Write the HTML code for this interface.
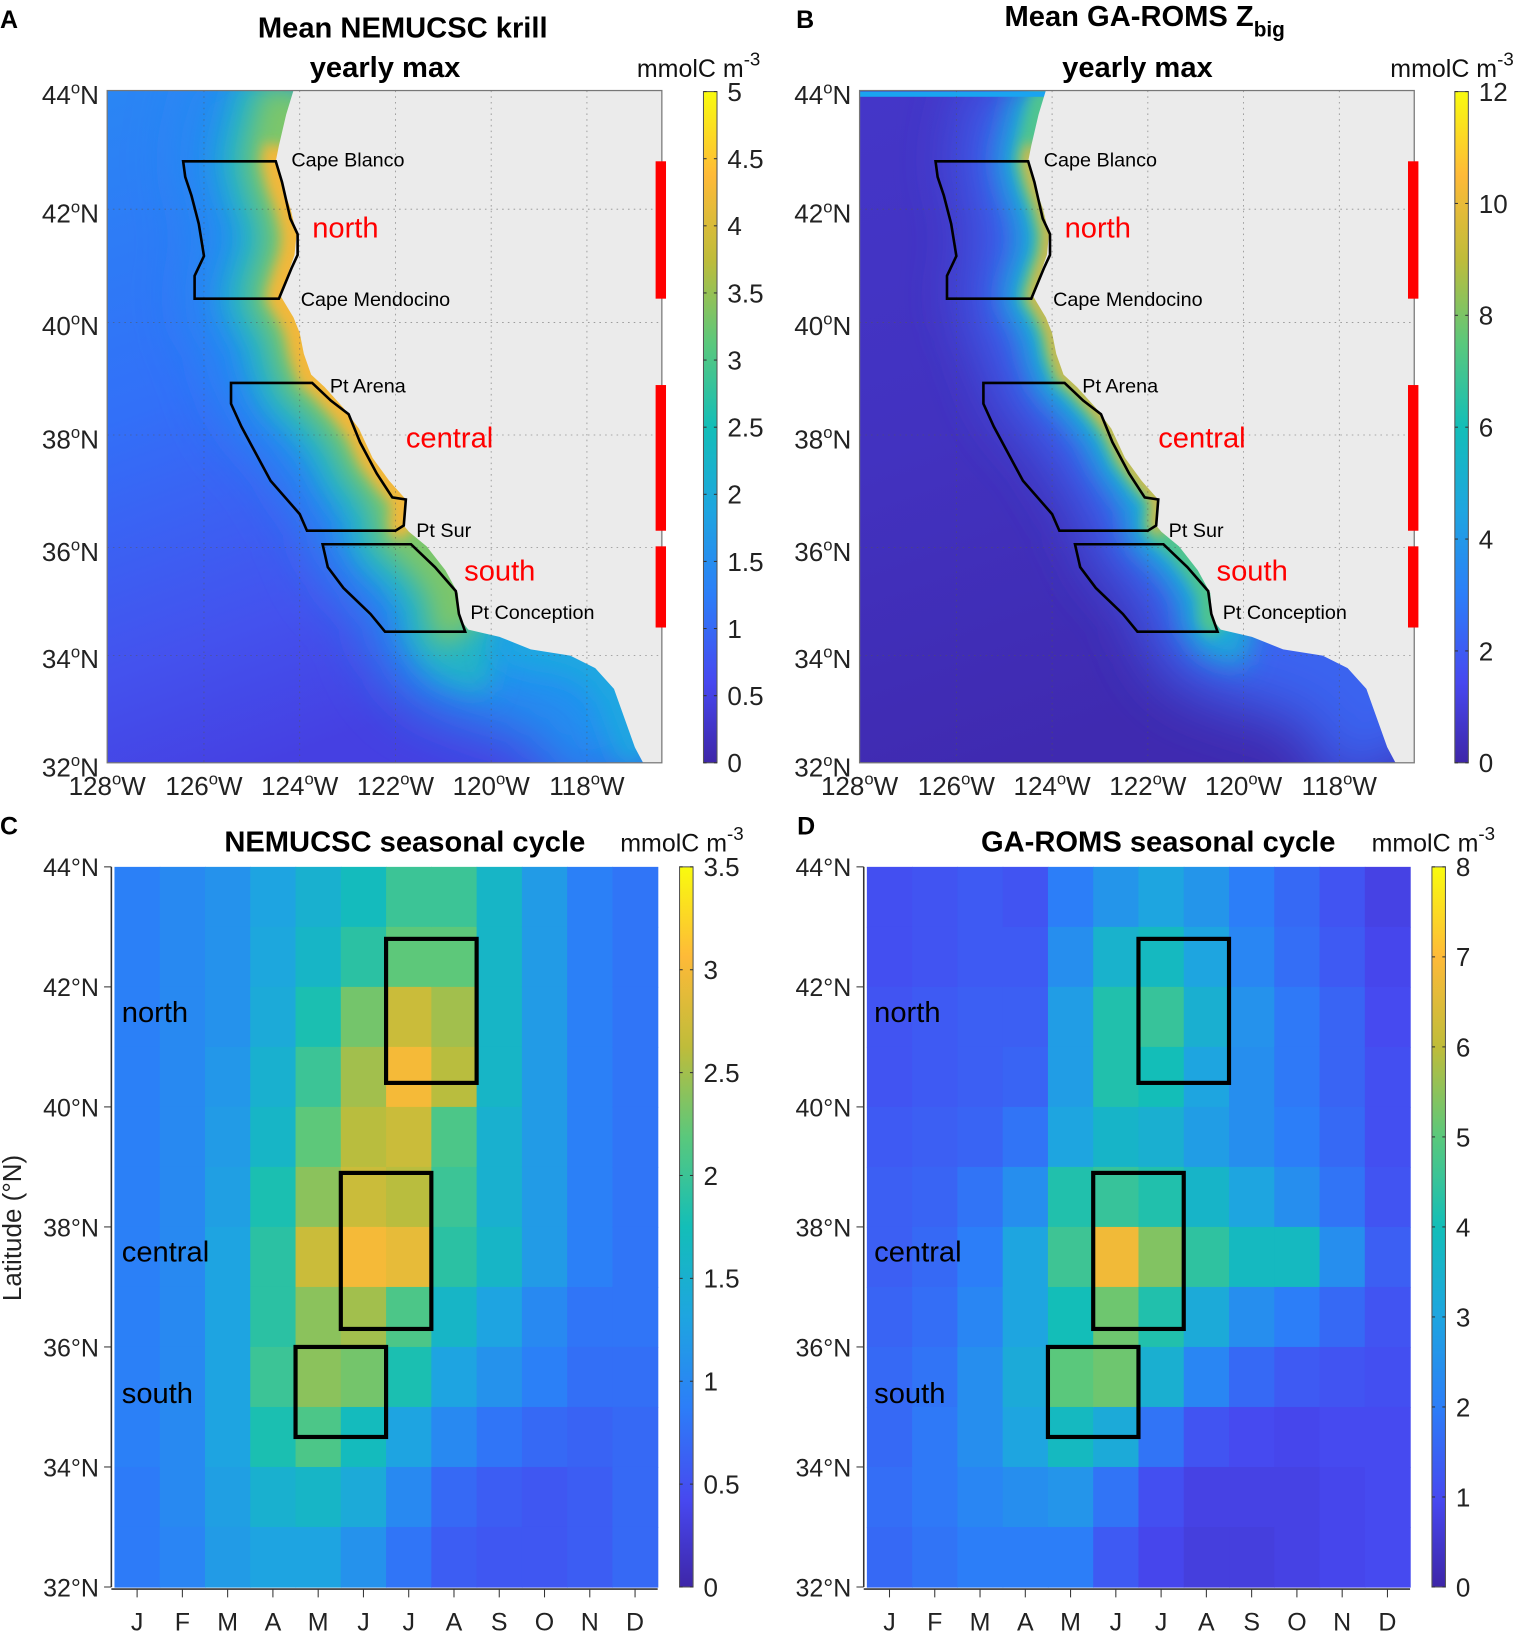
<!DOCTYPE html>
<html><head><meta charset="utf-8"><style>
html,body{margin:0;padding:0;background:#fff;}
#wrap{width:1476px;height:1568px;transform:scale(1.04065);transform-origin:0 0;position:relative;font-family:"Liberation Sans",Arial,sans-serif;}
svg text{font-family:"Liberation Sans",Arial,sans-serif;}
</style></head><body>
<div id="wrap">
<svg id="fig" width="1476" height="1568" viewBox="0 0 1476 1568" xmlns="http://www.w3.org/2000/svg">
<defs>
<linearGradient id="parula" x1="0" y1="1" x2="0" y2="0">
<stop offset="0" stop-color="#3E26A8"/><stop offset="0.12" stop-color="#4748F0"/><stop offset="0.25" stop-color="#2C7EF8"/><stop offset="0.375" stop-color="#1EA5E0"/><stop offset="0.5" stop-color="#13BEB8"/><stop offset="0.625" stop-color="#5AC87C"/><stop offset="0.75" stop-color="#BFBC3A"/><stop offset="0.875" stop-color="#FEBA38"/><stop offset="1" stop-color="#F9FB0E"/>
</linearGradient>
<linearGradient id="oceanA" x1="0" y1="0" x2="0.3" y2="1">
<stop offset="0" stop-color="#2a86f4"/><stop offset="0.45" stop-color="#3270f8"/><stop offset="0.8" stop-color="#4452ee"/><stop offset="1" stop-color="#4540e2"/>
</linearGradient>
<linearGradient id="oceanB" x1="0" y1="0" x2="0.3" y2="1">
<stop offset="0" stop-color="#4436c8"/><stop offset="0.5" stop-color="#4232c0"/><stop offset="1" stop-color="#3f2ab0"/>
</linearGradient>
<filter id="blur30" filterUnits="userSpaceOnUse" x="0" y="0" width="1476" height="800"><feGaussianBlur stdDeviation="28"/></filter>
<filter id="blur14" filterUnits="userSpaceOnUse" x="0" y="0" width="1476" height="800"><feGaussianBlur stdDeviation="13"/></filter>
<filter id="blur6" filterUnits="userSpaceOnUse" x="0" y="0" width="1476" height="800"><feGaussianBlur stdDeviation="6"/></filter>
<clipPath id="clipA"><rect x="103" y="87" width="533" height="646"/></clipPath>
<clipPath id="clipB"><rect x="826" y="87" width="533" height="646"/></clipPath>
</defs>
<g id="maps"></g>
<g id="heat"></g>
</svg>
</div>
<script>
// ---- Seasonal cycle data (rows: lat bands 44-43 ... 33-32; columns: months J..D)
const months = ['J','F','M','A','M','J','J','A','S','O','N','D'];
const latBands = [43.5,42.5,41.5,40.5,39.5,38.5,37.5,36.5,35.5,34.5,33.5,32.5];
const nemJan = [0.9,0.9,0.9,0.9,0.9,0.9,0.9,0.9,0.9,0.9,0.85,0.85];
const nemFeb = [1.0,1.0,1.0,1.0,1.0,1.0,1.0,1.0,1.0,1.0,1.0,0.95];
const nemMar = [1.1,1.1,1.1,1.15,1.2,1.25,1.3,1.3,1.3,1.3,1.25,1.2];
const nemApr = [1.3,1.35,1.4,1.5,1.6,1.8,1.9,1.9,2.0,1.8,1.5,1.3];
const nemMay = [1.5,1.6,1.8,2.0,2.2,2.4,2.7,2.4,2.4,2.1,1.6,1.3];
const nemJun = [1.7,1.9,2.3,2.5,2.6,2.7,3.0,2.5,2.3,1.7,1.4,1.1];
const nemJul = [2.0,2.2,2.7,3.0,2.7,2.6,2.9,2.1,1.8,1.3,1.0,0.8];
const nemAug = [2.0,2.2,2.5,2.6,2.1,2.0,1.9,1.6,1.3,1.0,0.7,0.6];
const nemSep = [1.6,1.6,1.6,1.6,1.5,1.5,1.6,1.3,1.1,0.8,0.6,0.55];
const nemOct = [1.2,1.2,1.2,1.2,1.2,1.2,1.2,1.0,0.9,0.7,0.55,0.55];
const nemNov = [0.9,0.9,0.9,0.9,0.9,0.9,0.9,0.8,0.75,0.65,0.6,0.6];
const nemDec = [0.8,0.8,0.8,0.8,0.8,0.8,0.8,0.8,0.75,0.7,0.7,0.7];
const romJan = [1.1,1.1,1.2,1.2,1.3,1.4,1.4,1.5,1.6,1.6,1.7,1.6];
const romFeb = [1.2,1.2,1.3,1.3,1.4,1.5,1.6,1.7,1.8,1.9,1.9,1.8];
const romMar = [1.3,1.3,1.4,1.4,1.5,1.8,2.0,2.2,2.4,2.4,2.2,2.0];
const romApr = [1.2,1.3,1.4,1.5,1.8,2.4,3.0,3.0,3.2,3.0,2.4,2.0];
const romMay = [2.0,2.4,2.8,2.8,3.0,4.2,4.6,4.0,5.0,3.8,2.6,2.0];
const romJun = [2.6,3.5,4.2,4.2,3.6,4.5,6.8,5.2,5.2,3.2,1.8,1.3];
const romJul = [3.0,3.8,4.5,4.0,3.4,4.2,5.4,4.2,3.4,1.8,1.1,0.9];
const romAug = [2.6,3.0,3.4,3.0,2.8,3.6,4.4,3.2,2.2,1.2,0.8,0.7];
const romSep = [2.0,2.2,2.5,2.4,2.4,3.0,3.8,2.4,1.6,1.0,0.8,0.7];
const romOct = [1.6,1.7,1.9,1.9,2.0,2.4,3.8,2.0,1.3,0.9,0.8,0.8];
const romNov = [1.2,1.3,1.5,1.5,1.6,1.8,2.4,1.6,1.2,1.0,0.9,0.9];
const romDec = [0.8,0.9,1.0,1.1,1.1,1.2,1.4,1.2,1.1,1.0,1.0,1.0];
const nemData = [nemJan,nemFeb,nemMar,nemApr,nemMay,nemJun,nemJul,nemAug,nemSep,nemOct,nemNov,nemDec];
const romData = [romJan,romFeb,romMar,romApr,romMay,romJun,romJul,romAug,romSep,romOct,romNov,romDec];
const latTicks = [44,42,40,38,36,34,32];
const nemCbTicks = ['0','0.5','1','1.5','2','2.5','3','3.5'];
const romCbTicks = ['0','1','2','3','4','5','6','7','8'];
const mapACbTicks = ['0','0.5','1','1.5','2','2.5','3','3.5','4','4.5','5'];
const mapBCbTicks = ['0','2','4','6','8','10','12'];
// region boxes: [startMonthIdx, endMonthIdx(exclusive), northLat, southLat]
const nemBoxes = [[6,8,42.8,40.4],[5,7,38.9,36.3],[4,6,36.0,34.5]];
const romBoxes = [[6,8,42.8,40.4],[5,7,38.9,36.3],[4,6,36.0,34.5]];

const NS='http://www.w3.org/2000/svg';
const svg=document.getElementById('fig');
function el(tag,attrs,parent,text){const e=document.createElementNS(NS,tag);for(const k in attrs)e.setAttribute(k,attrs[k]);if(text!==undefined)e.textContent=text;(parent||svg).appendChild(e);return e;}
const parStops=[[0,[62,38,168]],[0.12,[71,72,240]],[0.25,[44,126,248]],[0.375,[30,165,224]],[0.5,[19,190,184]],[0.625,[90,200,124]],[0.75,[191,188,58]],[0.875,[254,186,56]],[1,[249,251,14]]];
function parula(t){t=Math.max(0,Math.min(1,t));for(let i=1;i<parStops.length;i++){if(t<=parStops[i][0]){const a=parStops[i-1],b=parStops[i];const f=(t-a[0])/(b[0]-a[0]);const c=a[1].map((v,j)=>Math.round(v+(b[1][j]-v)*f));return 'rgb('+c.join(',')+')';}}return 'rgb(249,251,14)';}

function colorbar(x,y0,y1,ticks,vmax,name){
  const g=el('g',{},svg);
  
  
  el('rect',{x:x,y:y0,width:13,height:y1-y0,fill:'url(#parula)',stroke:'#555','stroke-width':1},g);
  ticks.forEach(t=>{const v=parseFloat(t);const y=y1-(v/vmax)*(y1-y0);
    el('line',{x1:x,x2:x+3,y1:y,y2:y,stroke:'#333'},g);el('line',{x1:x+10,x2:x+13,y1:y,y2:y,stroke:'#333'},g);
    const tx=el('text',{x:x+23,y:y+9,'font-size':25,fill:'#222'},g,t);
    
    
  });
}
function unitsLabel(x,y,g){const t=el('text',{x:x,y:y,'font-size':24,fill:'#111'},g||svg);t.innerHTML='mmolC m<tspan dy="-11" font-size="18">-3</tspan>';}

// ---------------- MAPS ----------------
const coast=[[282,87],[275,110],[268,140],[265,155],[270,175],[279,200],[285,225],[283,245],[276,265],[270,285],[282,305],[288,320],[292,340],[299,360],[312,372],[330,392],[345,412],[358,440],[374,462],[390,480],[388,505],[393,511],[410,525],[428,548],[440,570],[442,595],[450,605],[480,612],[510,624],[548,630],[572,642],[590,662],[600,690],[610,718],[618,733]];
const north=[[176,155],[265,155],[271,175],[279,210],[286,225],[286,245],[280,258],[268,287],[187,287],[187,265],[196,246],[191,215],[184,188],[178,170]];
const central=[[222,368],[300,368],[318,385],[335,398],[346,425],[362,455],[377,478],[390,480],[388,505],[380,510],[295,510],[288,494],[260,462],[232,410],[222,388]];
const south=[[310,523],[395,523],[418,545],[438,568],[441,590],[447,607],[370,607],[356,590],[330,565],[315,545]];
function pts(arr,dx){return arr.map(p=>(p[0]+dx)+','+p[1]).join(' ');}
function drawMap(dx,panel){
  const g=el('g',{'clip-path':'url(#clip'+panel+')'},document.getElementById('maps'));
  
  
  el('rect',{x:103+dx,y:87,width:533,height:646,fill:panel==='A'?'url(#oceanA)':'url(#oceanB)'},g);
  const c=pts(coast,dx);
  const cN=pts(coast.slice(0,28),dx);
  if(panel==='A'){
    el('polyline',{points:c,fill:'none',stroke:'#2290f0','stroke-width':170,filter:'url(#blur30)','stroke-linejoin':'round'},g);
    el('polyline',{points:cN,fill:'none',stroke:'#22b4c8','stroke-width':110,filter:'url(#blur14)','stroke-linejoin':'round'},g);
    el('polyline',{points:pts(coast.slice(0,27),dx),fill:'none',stroke:'#7cc66a','stroke-width':60,filter:'url(#blur14)','stroke-linejoin':'round'},g);
    el('polyline',{points:pts(coast.slice(27),dx),fill:'none',stroke:'#1ea8e0','stroke-width':40,filter:'url(#blur14)','stroke-linejoin':'round'},g);
    el('polyline',{points:pts(coast.slice(2,22),dx),fill:'none',stroke:'#f2b83a','stroke-width':28,filter:'url(#blur6)','stroke-linejoin':'round'},g);
  } else {
    el('polyline',{points:c,fill:'none',stroke:'#3a64f0','stroke-width':130,filter:'url(#blur30)','stroke-linejoin':'round'},g);
    el('polyline',{points:cN,fill:'none',stroke:'#1eaad8','stroke-width':60,filter:'url(#blur14)','stroke-linejoin':'round'},g);
    el('polyline',{points:pts(coast.slice(0,27),dx),fill:'none',stroke:'#50c490','stroke-width':26,filter:'url(#blur6)','stroke-linejoin':'round'},g);
    el('polyline',{points:pts(coast.slice(2,22),dx),fill:'none',stroke:'#e8b840','stroke-width':12,filter:'url(#blur6)','stroke-linejoin':'round'},g);
    el('rect',{x:103+dx,y:88,width:180,height:5,fill:'#1aa4f0'},g);
  }
  const land=el('polygon',{points:c+' '+(640+dx)+',737 '+(640+dx)+',83',fill:'#ebebeb'},g);
  
  
  [196,288,380,472,564].forEach(x=>el('line',{x1:x+dx,x2:x+dx,y1:87,y2:733,stroke:'#555','stroke-width':0.8,'stroke-dasharray':'1.5 4',opacity:0.6},g));
  [201,310,418,526,630].forEach(y=>el('line',{x1:103+dx,x2:636+dx,y1:y,y2:y,stroke:'#555','stroke-width':0.8,'stroke-dasharray':'1.5 4',opacity:0.6},g));
  [['north',north],['central',central],['south',south]].forEach(r=>{const p=el('polygon',{points:pts(r[1],dx),fill:'none',stroke:'#000','stroke-width':2.5},g);});
  const fr=el('rect',{x:103+dx,y:87,width:533,height:646,fill:'none',stroke:'#777','stroke-width':1.2},svg);
  
  
  [[155,287],[370,510],[525,603]].forEach(b=>{const r=el('rect',{x:630+dx,y:b[0],width:10,height:b[1]-b[0],fill:'#ff0000'},svg);});
  const labs=[['Cape Blanco',280,160,19,'#000'],['north',300,228,28,'#ff0000'],['Cape Mendocino',289,294,19,'#000'],['Pt Arena',317,377,19,'#000'],['central',390,430,28,'#ff0000'],['Pt Sur',400,516,19,'#000'],['south',446,558,28,'#ff0000'],['Pt Conception',452,595,19,'#000']];
  labs.forEach(l=>{const t=el('text',{x:l[1]+dx,y:l[2],'font-size':l[3],fill:l[4]},svg,l[0]);});
  const lats=[['44',91],['42',205],['40',313],['38',422],['36',530],['34',633],['32',737]];
  lats.forEach(l=>{const t=el('text',{x:95+dx,y:l[1]+9,'font-size':25,'text-anchor':'end',fill:'#222'},svg);t.innerHTML=l[0]+'<tspan dy="-10" font-size="16">o</tspan><tspan dy="10">N</tspan>';});
  const lons=[['128',103],['126',196],['124',288],['122',380],['120',472],['118',564]];
  lons.forEach(l=>{const t=el('text',{x:l[1]+dx,y:764,'font-size':25,'text-anchor':'middle',fill:'#222'},svg);t.innerHTML=l[0]+'<tspan dy="-10" font-size="16">o</tspan><tspan dy="10">W</tspan>';});
}
drawMap(0,'A');drawMap(723,'B');
colorbar(676,88,733,mapACbTicks,5,'colorbar-a');
colorbar(1398,88,733,mapBCbTicks,12,'colorbar-b');
unitsLabel(612,74);unitsLabel(1336,74);
function title(x,y,txt,name,sub){const t=el('text',{x:x,y:y,'font-size':28,'font-weight':'bold','text-anchor':'middle',fill:'#000'},svg);if(sub){t.innerHTML=txt+'<tspan dy="10" font-size="20">'+sub+'</tspan>';}else t.textContent=txt;}
title(387,36,'Mean NEMUCSC krill','title-a');title(370,74,'yearly max','title-a-line2');
title(1100,25,'Mean GA-ROMS Z','title-b','big');title(1093,74,'yearly max','title-b-line2');
title(389,818,'NEMUCSC seasonal cycle','title-c');title(1113,818,'GA-ROMS seasonal cycle','title-d');
[['A',0,27],['B',765,27],['C',0,802],['D',766,802]].forEach(p=>{const t=el('text',{x:p[1],y:p[2],'font-size':24,'font-weight':'bold',fill:'#000'},svg,p[0]);});

// ---------------- HEATMAPS ----------------
function heatmap(x0,data,vmax,boxes,panel,cbTicks,cbx){
  const y0=833,y1=1525,w=522;
  const cw=w/12;
  const xS=m=>x0+m*cw;
  const yS=lat=>y0+(44-lat)*(y1-y0)/12;
  const g=el('g',{},document.getElementById('heat'));
  
  
  data.forEach((col,m)=>{col.forEach((v,r)=>{
    const c=el('rect',{x:xS(m),y:yS(latBands[r]+0.5),width:cw+0.6,height:yS(latBands[r]-0.5)-yS(latBands[r]+0.5)+0.6,fill:parula(v/vmax)},g);
    
    
  });});
  boxes.forEach(b=>{const r=el('rect',{x:xS(b[0]),y:yS(b[2]),width:xS(b[1])-xS(b[0]),height:yS(b[3])-yS(b[2]),fill:'none',stroke:'#000','stroke-width':4},g);});
  el('line',{x1:x0-3,x2:x0-3,y1:y0,y2:y1,stroke:'#333','stroke-width':1.5},svg);
  el('line',{x1:x0-3,x2:x0+w,y1:y1+2,y2:y1+2,stroke:'#333','stroke-width':1.5},svg);
  latTicks.forEach(l=>{const y=yS(l);el('line',{x1:x0-10,x2:x0-3,y1:y,y2:y,stroke:'#333'},svg);
    const t=el('text',{x:x0-15,y:y+9,'font-size':24,'text-anchor':'end',fill:'#222'},svg,l+'°N');});
  months.forEach((mo,m)=>{const x=xS(m)+cw/2;el('line',{x1:x,x2:x,y1:y1+2,y2:y1+10,stroke:'#333'},svg);
    const t=el('text',{x:x,y:y1+42,'font-size':24,'text-anchor':'middle',fill:'#222'},svg,mo);});
  [['north',972],['central',1202],['south',1338]].forEach(l=>{const t=el('text',{x:x0+7,y:l[1]+10,'font-size':28,fill:'#000'},svg,l[0]);});
  colorbar(cbx,y0,y1,cbTicks,vmax,'colorbar-'+panel);
}
heatmap(110,nemData,3.5,nemBoxes,'c',nemCbTicks,653);
heatmap(833,romData,8,romBoxes,'d',romCbTicks,1376);
unitsLabel(596,818);unitsLabel(1318,818);
const yl=el('text',{x:0,y:0,'font-size':25,'text-anchor':'middle',fill:'#222',transform:'translate(20,1180) rotate(-90)'},svg,'Latitude (°N)');


</script>
</body></html>
